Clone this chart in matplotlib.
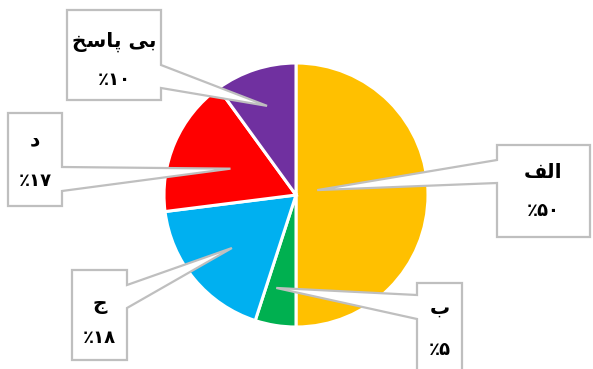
import matplotlib
matplotlib.use("Agg")
import matplotlib.pyplot as plt
from matplotlib.patches import Polygon
import numpy as np

# ---- data ----
labels = ["الف", "ب", "ج", "د", "بی پاسخ"]
values = [50, 5, 18, 17, 10]
colors = ["#FFC000", "#00B050", "#00B0F0", "#FF0000", "#7030A0"]

# ---- minimal Arabic/Persian shaping (presentation forms, visual order) ----
FORMS = {  # iso, fin, ini, med
    "ا": ("\uFE8D", "\uFE8E", None, None),
    "د": ("\uFEA9", "\uFEAA", None, None),
    "ل": ("\uFEDD", "\uFEDE", "\uFEDF", "\uFEE0"),
    "ف": ("\uFED1", "\uFED2", "\uFED3", "\uFED4"),
    "ب": ("\uFE8F", "\uFE90", "\uFE91", "\uFE92"),
    "ج": ("\uFE9D", "\uFE9E", "\uFE9F", "\uFEA0"),
    "ی": ("\uFBFC", "\uFBFD", "\uFBFE", "\uFBFF"),
    "پ": ("\uFB56", "\uFB57", "\uFB58", "\uFB59"),
    "س": ("\uFEB1", "\uFEB2", "\uFEB3", "\uFEB4"),
    "خ": ("\uFEA5", "\uFEA6", "\uFEA7", "\uFEA8"),
}

def dual(c):
    return c in FORMS and FORMS[c][2] is not None

def shape(s):
    out = []
    for i, c in enumerate(s):
        if c not in FORMS:
            out.append(c)
            continue
        prev = s[i - 1] if i > 0 else ""
        nxt = s[i + 1] if i + 1 < len(s) else ""
        jp = dual(prev)
        jn = dual(c) and nxt in FORMS
        iso, fin, ini, med = FORMS[c]
        if jp and jn:
            out.append(med)
        elif jp:
            out.append(fin)
        elif jn:
            out.append(ini)
        else:
            out.append(iso)
    return "".join(reversed(out))

FA_DIGITS = "۰۱۲۳۴۵۶۷۸۹"
def pct(v):
    return "٪" + "".join(FA_DIGITS[int(d)] for d in str(v))

# ---- figure ----
W, H = 593, 369
fig = plt.figure(figsize=(W / 100, H / 100), dpi=100)
ax = fig.add_axes([0, 0, 1, 1])

def Y(y):
    return H - y

cx, cy, R = 296, Y(195), 132
wedges, _ = ax.pie(values, colors=colors, startangle=90, counterclock=False,
                   center=(cx, cy), radius=R, frame=True,
                   wedgeprops=dict(edgecolor="white", linewidth=2.2))
ax.set_xlim(0, W)
ax.set_ylim(0, H)
ax.set_aspect("equal")
ax.axis("off")

# callout layout: box (left, right, top, bottom) in px from top, pointer side, pointer y-range
boxes = [
    (497, 590, 145, 237, "left", 160, 183),
    (417, 462, 283, 380, "left", 295, 319),
    (72, 127, 270, 360, "right", 285, 308),
    (8, 62, 113, 206, "right", 167, 191),
    (67, 161, 10, 100, "right", 65, 88),
]
tip_r = [0.165, 0.72, 0.63, 0.535, 0.71]
tip_dang = [13, -3, 0, 1.5, 0]
label_y = [172, 308, 305, 140, 42]
pct_y = [211, 350, 338, 181, 80]

for i, w in enumerate(wedges):
    mid = np.deg2rad((w.theta1 + w.theta2) / 2 + tip_dang[i])
    tx = cx + R * tip_r[i] * np.cos(mid)
    ty = cy + R * tip_r[i] * np.sin(mid)
    L, Rr, T, B, side, p1, p2 = boxes[i]
    if side == "right":
        pts = [(L, Y(T)), (Rr, Y(T)), (Rr, Y(p1)), (tx, ty), (Rr, Y(p2)),
               (Rr, Y(B)), (L, Y(B))]
    else:
        pts = [(L, Y(T)), (Rr, Y(T)), (Rr, Y(B)), (L, Y(B)), (L, Y(p2)),
               (tx, ty), (L, Y(p1))]
    ax.add_patch(Polygon(pts, closed=True, facecolor="white",
                         edgecolor="#BFBFBF", linewidth=1.6, zorder=5,
                         joinstyle="miter"))
    xc = (L + Rr) / 2
    ax.text(xc, Y(label_y[i]), shape(labels[i]), ha="center", va="center",
            fontsize=14.5, fontweight="bold", family=["DejaVu Sans"], zorder=6)
    ax.text(xc, Y(pct_y[i]), pct(values[i]), ha="center", va="center",
            fontsize=13, fontweight="bold", family=["DejaVu Sans"], zorder=6)

fig.savefig("out.png", dpi=100)
